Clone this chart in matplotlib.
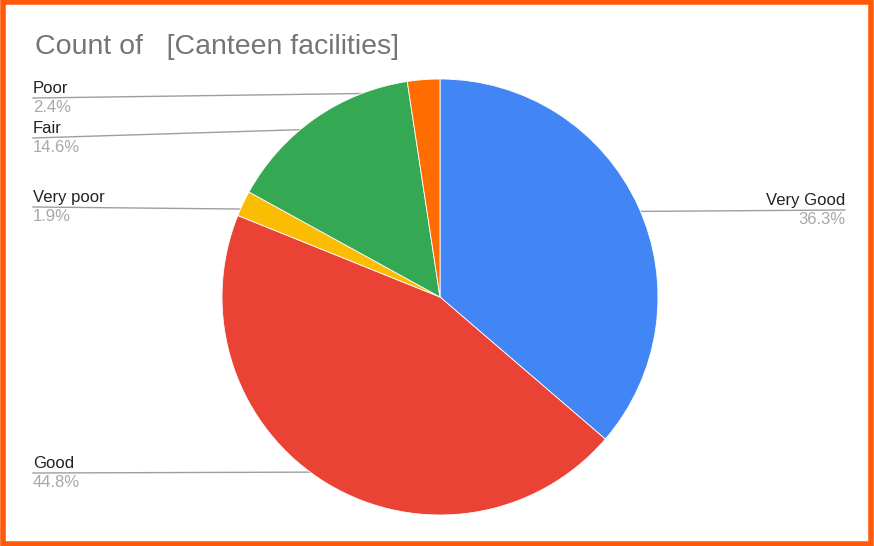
import numpy as np
import matplotlib.pyplot as plt
from matplotlib.patches import Rectangle

plt.rcParams['font.family'] = ['Liberation Sans', 'DejaVu Sans']

# Count of [Canteen facilities] - shares in percent, clockwise from 12 o'clock
labels = ['Very Good', 'Good', 'Very poor', 'Fair', 'Poor']
values = [36.3, 44.8, 1.9, 14.6, 2.4]
colors = ['#4285F4', '#EA4335', '#FBBC04', '#34A853', '#FF6D01']

# which side each label sits on, and the height of its leader line
sides = ['right', 'left', 'left', 'left', 'left']
line_y = [210, 473, 207, 138, 98]

W, H = 874, 546
fig = plt.figure(figsize=(W / 100, H / 100), dpi=100)
ax = fig.add_axes([0, 0, 1, 1])

cx, cy, R = 440, 297, 218

# y axis runs downward (pixel style), so -90 is 12 o'clock and
# counterclock=True ends up going clockwise on screen
wedges, _ = ax.pie(values, colors=colors, startangle=-90, counterclock=True,
                   center=(cx, cy), radius=R, frame=True,
                   wedgeprops=dict(edgecolor='white', linewidth=0.6, zorder=3))
ax.set_xlim(0, W)
ax.set_ylim(H, 0)
ax.set_aspect('auto')
ax.axis('off')

for w, lab, v, side, ly in zip(wedges, labels, values, sides, line_y):
    mid = np.deg2rad((w.theta1 + w.theta2) / 2)
    ex = cx + 0.94 * R * np.cos(mid)
    ey = cy + 0.94 * R * np.sin(mid)
    if side == 'left':
        x0, ha = 33, 'left'
    else:
        x0, ha = 845, 'right'
    ax.plot([x0, ex], [ly, ey], color='#9e9e9e', lw=1.0, zorder=1)
    ax.text(x0, ly - 2, lab, ha=ha, va='bottom', fontsize=12, color='#222222')
    ax.text(x0, ly + 2, f'{v:.1f}%', ha=ha, va='top', fontsize=12, color='#a8a8a8')

ax.text(35, 47, 'Count of   [Canteen facilities]', ha='left', va='center',
        fontsize=20.5, color='#757575')

# orange frame round the chart
fig.patches.append(Rectangle((0.003, 0.004), 0.994, 0.992, transform=fig.transFigure,
                             fill=False, edgecolor='#FF5A0A', linewidth=4))

fig.savefig('out.png', dpi=100, facecolor='white')
